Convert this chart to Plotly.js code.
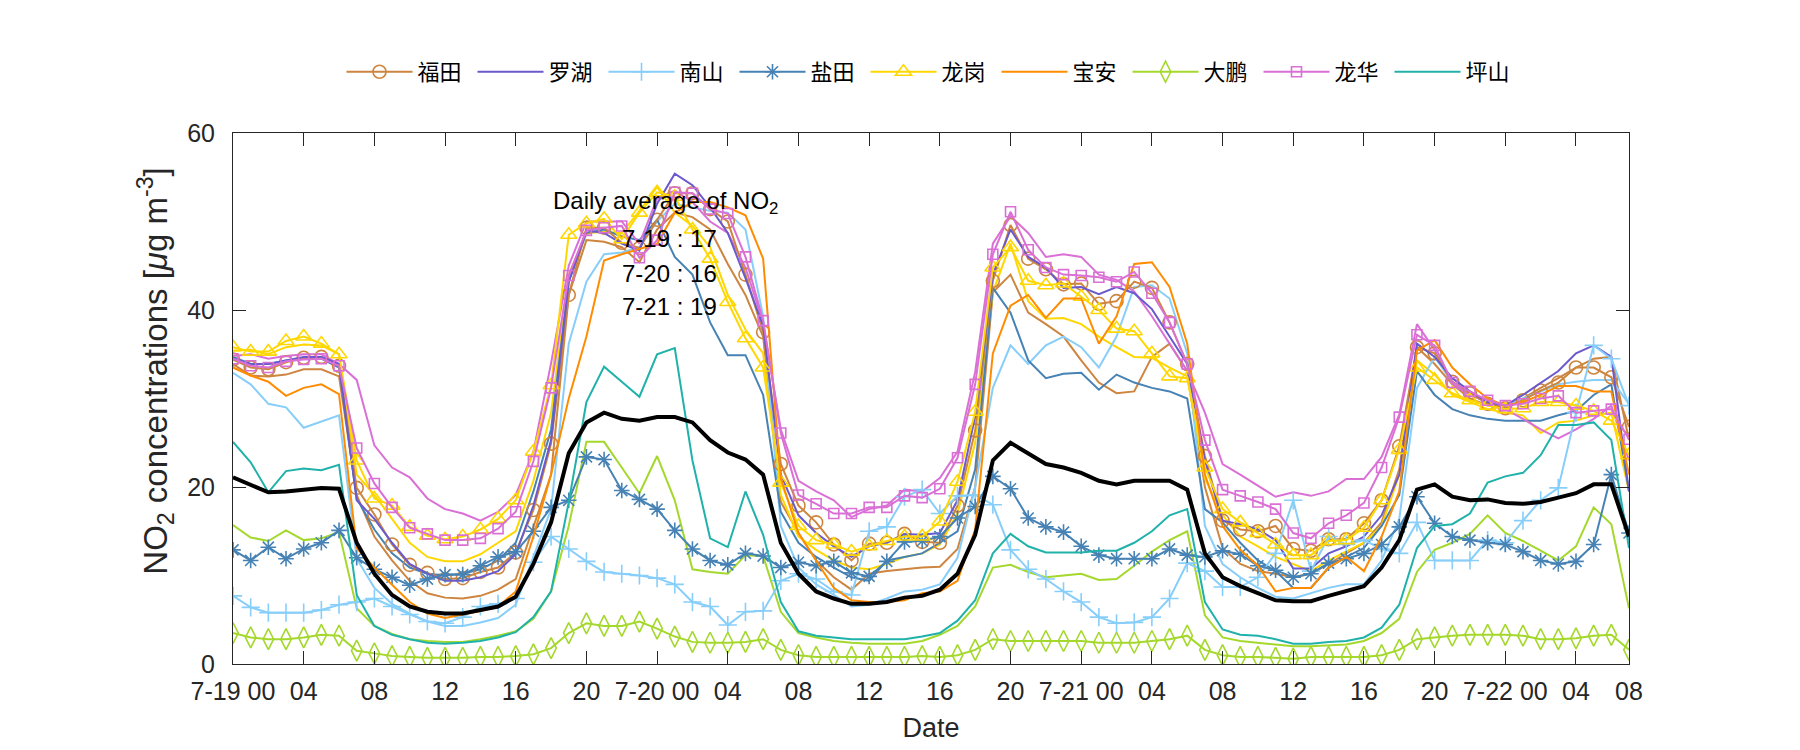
<!DOCTYPE html>
<html>
<head>
<meta charset="utf-8">
<script src="https://cdn.plot.ly/plotly-3.0.1.min.js"></script>
<style>
  html, body { margin: 0; padding: 0; background: #ffffff; }
  #chart { width: 1800px; height: 750px; }
</style>
</head>
<body>
<div id="chart"></div>
<script>
// Hour index from 7-19 00:00 (hourly samples)
const hours = Array.from({length: 80}, (_, i) => i);

// Tick positions / labels on the date axis
const tickPositions = [0, 4, 8, 12, 16, 20, 24, 28, 32, 36, 40, 44, 48, 52, 56, 60, 64, 68, 72, 76, 79];
const tickLabels = ['7-19 00', '04', '08', '12', '16', '20', '7-20 00', '04', '08', '12', '16', '20',
                    '7-21 00', '04', '08', '12', '16', '20', '7-22 00', '04', '08'];

const stationNames = ['福田', '罗湖', '南山', '盐田', '龙岗', '宝安', '大鹏', '龙华', '坪山'];

// Marked / legend series (NO2, μg m-3)
const futian = [34.4,33.5,33.3,34.1,34.6,34.7,33.7,19.9,16.9,13.5,11.2,10.3,9.6,9.7,10.4,10.9,12.6,17.4,24.9,41.7,
  49.3,49.3,47.6,47.0,50.2,53.2,53.2,51.4,50.0,44.0,37.5,22.6,17.9,16.0,13.5,11.7,13.6,13.7,14.7,13.8,
  13.7,17.9,26.4,43.3,49.6,45.8,44.6,42.9,43.0,40.7,41.0,43.2,42.5,38.6,33.9,23.5,16.2,15.2,15.0,15.6,
  13.0,12.8,14.1,14.1,15.9,18.5,24.6,35.8,35.1,31.9,30.6,29.4,28.9,29.8,30.9,31.8,33.5,33.5,32.4,26.8];
const luohu = [34.5,33.9,33.9,34.3,34.7,34.7,33.9,18.5,16.4,13.7,11.3,10.2,9.4,9.4,9.8,10.5,12.4,17.9,25.3,43.2,
  49.0,48.7,47.5,46.7,52.0,55.4,54.1,51.6,48.7,43.6,38.2,21.4,16.8,14.8,13.3,12.1,13.3,13.7,14.7,14.6,
  14.8,18.5,28.0,44.0,49.1,46.0,44.8,42.5,42.6,41.8,42.6,41.9,40.1,37.0,33.9,23.0,16.2,15.8,15.2,14.0,
  10.8,10.8,12.5,13.3,14.4,16.8,21.4,36.2,34.7,32.3,30.8,29.6,29.2,30.4,31.8,33.1,35.1,36.0,34.7,19.5];
const nanshan = [7.7,6.4,5.8,5.8,5.8,6.1,6.7,7.0,7.4,6.5,5.6,4.8,4.6,5.3,6.5,6.8,7.4,11.5,14.4,13.0,
  11.6,10.4,10.2,10.0,9.7,9.0,7.0,6.5,4.4,5.9,6.0,9.4,10.2,9.6,8.2,7.8,15.0,15.5,18.9,19.7,
  17.0,19.0,19.1,18.0,12.9,10.7,9.6,8.2,7.0,5.3,4.6,4.7,5.3,7.4,11.4,10.5,8.7,8.7,9.8,12.5,
  18.5,10.5,14.4,13.5,14.0,13.0,12.5,16.0,11.7,11.7,11.7,14.0,13.7,16.2,18.5,19.9,28.4,36.0,34.5,29.2];
const yantian = [12.9,11.7,13.2,11.9,13.0,13.7,15.1,12.0,10.7,9.8,8.9,9.6,10.1,10.1,11.1,12.1,12.7,15.0,17.7,18.5,
  23.4,23.1,19.6,18.6,17.5,15.1,13.0,11.7,11.2,12.5,12.2,10.9,11.5,11.1,11.6,10.3,9.9,11.6,13.8,13.9,
  14.4,16.5,17.8,21.2,19.8,16.5,15.5,14.9,13.3,12.3,11.9,11.9,11.9,13.0,12.3,12.1,12.8,12.4,11.1,10.6,
  9.8,10.2,11.4,11.9,12.5,13.5,15.5,18.9,15.9,14.4,14.0,13.7,13.5,12.7,11.7,11.3,11.6,13.5,21.4,14.8];
const longgang = [35.8,35.3,35.3,36.5,37.0,36.2,35.0,23.0,18.7,17.9,15.5,14.5,14.1,14.4,15.2,16.4,18.5,24.0,31.5,48.5,
  49.8,50.3,48.0,51.0,53.3,52.8,49.1,45.8,40.9,36.8,33.5,20.5,15.6,14.0,13.5,12.7,13.3,13.9,14.4,14.4,
  16.1,20.6,28.5,44.8,47.1,43.3,42.8,43.0,41.5,40.0,37.9,37.6,35.1,32.5,32.3,22.2,17.5,16.0,14.8,13.5,
  12.3,12.3,13.9,14.0,15.4,18.5,24.2,33.5,32.1,30.6,29.8,29.2,28.8,28.9,29.6,29.6,29.2,28.6,27.5,23.6];
const baoan = [33.5,32.6,31.9,30.3,31.2,31.6,30.5,13.1,10.9,9.0,7.0,5.7,5.2,5.6,6.0,6.5,8.2,14.4,21.4,30.0,
  37.0,45.6,46.3,46.9,47.5,51.0,52.2,52.2,51.6,50.7,45.8,21.0,14.8,11.7,8.6,7.2,7.0,7.0,7.2,8.0,
  8.2,9.4,15.2,35.1,40.5,41.7,39.1,41.3,41.3,36.2,39.3,45.2,45.4,42.6,36.2,21.4,15.6,12.9,11.1,8.2,
  8.6,8.6,10.9,12.1,10.5,14.4,19.5,35.4,36.6,33.5,31.6,30.0,29.2,29.6,30.4,31.4,31.4,30.8,30.8,21.4];
const dapeng = [3.5,3.0,2.8,2.8,3.0,3.3,3.2,1.5,1.2,0.9,0.8,0.7,0.7,0.7,0.8,0.8,0.9,1.1,1.8,3.5,
  4.6,4.3,4.3,4.8,4.0,3.1,2.5,2.4,2.4,2.5,2.8,1.6,1.0,0.8,0.8,0.8,0.8,0.8,0.8,0.9,
  0.8,1.0,1.6,2.8,2.6,2.6,2.6,2.6,2.6,2.4,2.4,2.4,2.6,2.8,3.2,1.6,1.0,0.8,0.8,0.7,
  0.6,0.8,0.8,0.8,0.8,1.0,1.6,2.8,3.0,3.2,3.3,3.3,3.3,3.2,2.8,2.8,2.9,3.2,3.3,1.6];
const longhua = [34.5,33.7,33.5,34.2,34.4,34.5,33.7,24.4,20.4,17.7,15.4,14.7,14.0,14.0,14.2,15.3,17.2,22.9,31.2,43.9,
  49.0,49.3,49.5,45.9,47.9,53.3,53.2,51.4,50.9,46.0,38.8,26.1,19.1,18.1,17.0,17.0,17.7,17.7,19.0,18.8,
  19.8,23.3,31.6,46.3,51.1,46.8,44.8,44.0,43.9,43.7,43.2,44.3,41.9,38.6,33.9,25.3,19.7,19.0,18.3,17.5,
  14.8,14.2,15.9,16.8,18.2,22.2,27.9,37.2,36.0,31.8,30.8,29.8,29.2,29.4,30.0,30.3,28.4,28.6,28.8,25.4];
const pingshan = [25.1,22.8,19.4,21.8,22.1,21.9,22.5,7.8,4.3,3.3,2.8,2.4,2.3,2.4,2.6,3.0,3.6,5.3,8.2,18.3,
  29.6,33.6,31.9,30.2,35.0,35.7,23.0,14.2,13.2,19.5,14.6,7.0,3.7,3.2,3.0,2.8,2.8,2.8,2.8,3.1,
  3.5,4.9,7.2,12.5,14.7,13.3,12.6,12.6,12.6,12.8,12.8,13.7,15.0,16.8,17.5,7.0,3.9,3.3,3.2,2.8,
  2.3,2.3,2.5,2.6,3.0,4.1,6.7,13.1,15.6,15.8,17.0,20.5,21.2,21.6,23.6,27.0,27.0,27.3,25.3,13.1];

// Additional (unmarked) site series, same colours as their district
const futian2 = [33.9,32.6,32.5,32.7,33.3,33.3,32.5,19.1,14.4,11.7,9.4,8.0,7.5,7.4,7.7,8.4,9.6,15.6,21.4,41.7,
  47.9,47.7,47.1,45.4,49.1,51.0,50.5,49.1,45.2,41.7,37.0,18.3,14.8,11.7,9.8,8.4,10.2,10.5,10.7,10.9,
  11.0,13.0,20.0,42.0,44.0,39.7,38.4,37.0,34.3,31.8,30.6,30.8,34.7,36.2,33.1,20.0,13.1,11.3,10.5,10.2,
  9.8,10.2,11.3,12.5,13.7,16.0,22.0,35.8,33.9,31.6,30.0,29.2,28.8,30.0,31.2,32.3,33.5,34.5,34.7,25.3];
const longgang2 = [35.4,35.5,35.0,35.8,36.1,36.0,35.0,21.4,19.1,16.4,13.7,12.1,11.6,11.6,12.4,13.7,15.0,20.7,28.4,44.0,
  48.7,48.8,48.7,51.2,53.9,51.0,49.5,47.1,41.7,37.8,35.1,19.1,14.4,12.9,11.7,10.9,10.7,11.3,12.1,12.5,
  13.5,17.0,25.0,42.0,47.5,41.0,39.0,39.1,38.4,37.0,35.8,34.7,34.6,33.5,32.5,21.0,16.8,14.4,13.3,12.1,
  11.3,10.5,11.7,12.7,13.7,15.6,21.4,34.3,32.7,30.4,29.6,28.8,28.4,28.1,26.1,27.3,27.5,28.1,28.4,19.5];
const nanshan2 = [32.9,31.6,29.4,29.0,26.7,27.4,28.1,11.9,8.6,6.8,5.7,4.8,4.3,4.3,4.7,5.2,6.7,12.1,17.5,36.2,
  43.2,46.3,46.5,47.1,50.0,52.0,51.6,51.2,51.0,49.1,39.3,15.6,10.9,9.0,7.8,6.5,6.7,7.4,8.2,8.4,
  9.0,12.0,20.0,31.2,36.0,33.9,36.0,37.0,35.8,33.5,37.0,42.6,42.8,41.3,35.1,15.6,11.3,9.8,8.6,7.6,
  7.4,8.0,8.6,9.0,9.0,11.7,16.4,31.2,34.7,31.8,30.4,29.6,29.2,30.0,30.8,31.6,31.9,32.1,32.1,29.4];
const yantian2 = [34.7,33.9,33.9,34.3,34.5,34.5,33.5,18.7,15.2,12.5,10.9,10.2,10.0,10.2,10.7,11.7,13.7,19.5,26.5,43.2,
  48.7,49.1,48.3,47.9,50.2,46.0,44.0,38.6,34.9,34.9,30.4,17.2,13.7,12.1,10.9,9.8,9.4,11.7,12.1,12.5,
  13.7,15.0,22.0,42.5,39.7,34.3,32.3,32.8,32.9,31.0,32.7,31.8,31.2,30.8,30.0,17.5,16.0,13.7,11.7,10.5,
  8.6,8.6,10.9,12.1,13.1,15.6,19.1,33.1,30.4,28.8,28.1,27.7,27.5,27.5,27.5,28.1,28.6,30.4,31.6,19.5];
const longhua2 = [34.8,35.0,34.5,34.8,35.0,35.0,33.9,32.1,24.7,22.2,21.1,18.7,17.5,17.0,16.2,17.2,19.1,24.0,34.0,45.0,
  50.0,50.0,50.0,47.5,52.6,53.5,52.2,50.0,48.7,44.8,38.6,26.5,20.7,19.5,18.5,16.6,17.5,17.9,19.7,19.5,
  21.0,24.0,33.0,47.5,50.6,48.7,46.0,46.3,46.0,44.0,43.4,42.1,39.3,36.2,33.1,28.4,22.6,21.4,20.1,18.9,
  19.4,19.0,19.5,20.9,20.9,23.4,28.2,38.4,35.5,31.6,30.4,29.6,28.8,27.7,26.5,25.5,26.5,27.7,29.2,23.0];
const dapeng2 = [15.7,14.3,13.9,15.1,14.0,14.2,14.9,6.3,4.3,3.4,2.8,2.6,2.5,2.5,2.8,3.2,3.7,5.1,8.2,15.6,
  25.1,25.1,22.2,19.3,23.5,18.5,10.7,10.4,10.2,12.3,12.2,5.9,3.5,3.0,2.6,2.4,2.3,2.3,2.3,2.6,
  3.3,4.3,6.5,10.9,11.2,10.4,9.8,10.0,10.2,9.5,9.6,11.1,12.7,14.0,15.0,5.5,3.0,2.6,2.4,2.2,
  2.0,2.0,2.1,2.2,2.6,3.5,5.1,10.4,12.9,13.7,14.7,16.8,14.8,13.9,12.8,11.7,13.3,17.7,15.8,6.3];

// Mean over all sites
const average = [21.1,20.3,19.4,19.5,19.7,19.9,19.8,13.7,10.2,7.8,6.5,5.9,5.7,5.7,6.1,6.5,7.6,11.3,16.0,23.8,
  27.3,28.4,27.7,27.5,27.9,27.9,27.3,25.3,23.9,23.1,21.4,13.7,10.2,8.2,7.4,6.8,6.8,7.0,7.5,7.7,
  8.4,10.2,14.6,23.0,25.0,23.8,22.6,22.2,21.6,20.7,20.3,20.7,20.7,20.7,19.7,12.5,9.8,8.8,8.0,7.2,
  7.1,7.1,7.7,8.2,8.8,10.9,14.0,19.7,20.3,18.9,18.5,18.6,18.2,18.1,18.3,18.8,19.3,20.3,20.3,14.4];

const dailyLabels = ['7-19 : 17', '7-20 : 16', '7-21 : 19'];

const C = {
  futian: '#cd853f', luohu: '#6a5acd', nanshan: '#87cefa', yantian: '#4682b4',
  longgang: '#ffd700', baoan: '#ff8c00', dapeng: '#a4d82c', longhua: '#da70d6', pingshan: '#20b2aa'
};

function extra(y, color) {
  return {x: hours, y: y, type: 'scatter', mode: 'lines', showlegend: false,
          line: {color: color, width: 2}, hoverinfo: 'skip'};
}
function station(name, y, color, symbol, size) {
  const t = {x: hours, y: y, type: 'scatter', name: name, line: {color: color, width: 2}};
  if (symbol) {
    t.mode = 'lines+markers';
    t.marker = {symbol: symbol, size: size, color: color, line: {color: color, width: 1.6}};
  } else {
    t.mode = 'lines';
  }
  return t;
}

const traces = [
  extra(futian2, C.futian),
  extra(longgang2, C.longgang),
  extra(nanshan2, C.nanshan),
  extra(yantian2, C.yantian),
  extra(longhua2, C.longhua),
  extra(dapeng2, C.dapeng),
  station(stationNames[0], futian, C.futian, 'circle-open', 13),
  station(stationNames[1], luohu, C.luohu, null, 0),
  station(stationNames[2], nanshan, C.nanshan, 'cross-thin-open', 13),
  station(stationNames[3], yantian, C.yantian, 'asterisk-open', 13),
  station(stationNames[4], longgang, C.longgang, 'triangle-up-open', 14),
  station(stationNames[5], baoan, C.baoan, null, 0),
  station(stationNames[6], dapeng, C.dapeng, 'diamond-tall-open', 15),
  station(stationNames[7], longhua, C.longhua, 'square-open', 10),
  station(stationNames[8], pingshan, C.pingshan, null, 0),
  {x: hours, y: average, type: 'scatter', mode: 'lines', showlegend: false,
   line: {color: '#000000', width: 4}}
];

const baseFamily = '"Liberation Sans", Arial, sans-serif';
const tickFont = {family: baseFamily, size: 25, color: '#262626'};
const xTitleFont = {family: baseFamily, size: 27, color: '#262626'};
const yTitleFont = {family: baseFamily, size: 33, color: '#262626'};
const annFont = {family: baseFamily, size: 24, color: '#000000'};

const annotations = [
  {x: 18.0, y: 52.1, xref: 'x', yref: 'y', xanchor: 'left', yanchor: 'middle', showarrow: false,
   text: 'Daily average of NO<sub>2</sub>', font: annFont},
  {x: 21.9, y: 48.1, xref: 'x', yref: 'y', xanchor: 'left', yanchor: 'middle', showarrow: false,
   text: dailyLabels[0], font: annFont},
  {x: 21.9, y: 44.1, xref: 'x', yref: 'y', xanchor: 'left', yanchor: 'middle', showarrow: false,
   text: dailyLabels[1], font: annFont},
  {x: 21.9, y: 40.4, xref: 'x', yref: 'y', xanchor: 'left', yanchor: 'middle', showarrow: false,
   text: dailyLabels[2], font: annFont}
];

const layout = {
  width: 1800, height: 750,
  margin: {l: 233, r: 171, t: 133, b: 86, pad: 0},
  paper_bgcolor: '#ffffff', plot_bgcolor: '#ffffff',
  showlegend: true,
  legend: {
    orientation: 'h', x: 0.5, xanchor: 'center', y: 1.115, yanchor: 'middle',
    font: {family: '"Noto Sans CJK SC", sans-serif', size: 22, color: '#000000'},
    entrywidth: 50, entrywidthmode: 'pixels', itemwidth: 66,
    bgcolor: 'rgba(0,0,0,0)', borderwidth: 0
  },
  xaxis: {
    range: [0, 79], tickmode: 'array', tickvals: tickPositions, ticktext: tickLabels,
    showgrid: false, zeroline: false, showline: true, linecolor: '#262626', linewidth: 1,
    mirror: 'ticks', ticks: 'inside', ticklen: 13, tickwidth: 1, tickcolor: '#262626',
    tickfont: tickFont, ticklabelstandoff: 5,
    title: {text: 'Date', font: xTitleFont, standoff: 14}
  },
  yaxis: {
    range: [0, 60], tickvals: [0, 20, 40, 60],
    showgrid: false, zeroline: false, showline: true, linecolor: '#262626', linewidth: 1,
    mirror: 'ticks', ticks: 'inside', ticklen: 13, tickwidth: 1, tickcolor: '#262626',
    tickfont: tickFont, ticklabelstandoff: 12,
    title: {text: '&nbsp;&nbsp;&nbsp;&nbsp;&nbsp;&nbsp;NO<sub>2</sub> concentrations [<i>μ</i>g m<sup>-3</sup>]',
            font: yTitleFont, standoff: 9}
  },
  annotations: annotations
};

Plotly.newPlot('chart', traces, layout, {displayModeBar: false, staticPlot: true});
</script>
</body>
</html>
